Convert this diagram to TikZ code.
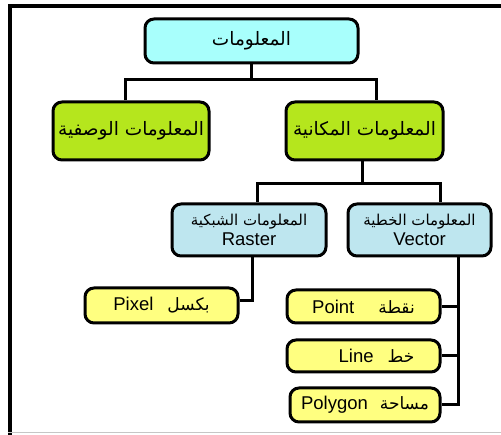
\documentclass[tikz,border=0pt]{standalone}
\usepackage{fontspec}
\setmainfont{Liberation Sans}
\newfontfamily\arabicfont[Script=Arabic]{DejaVu Sans}
\TeXXeTstate=1
\usetikzlibrary{calc}
\definecolor{cyanbox}{HTML}{A8FFFC}
\definecolor{greenbox}{HTML}{B5E61D}
\definecolor{bluebox}{HTML}{BEE6EF}
\definecolor{yellowbox}{HTML}{FFFF80}
\newcommand{\ar}[1]{{\arabicfont\beginR #1\endR}}
\begin{document}
\begin{tikzpicture}[x=1pt,y=-1pt,
  box/.style={draw=black,line width=3pt,rounded corners=9pt,inner sep=0pt,align=center,font=\fontsize{18.5}{21}\selectfont},
  conn/.style={draw=black,line width=3pt}]
\useasboundingbox (0,0) rectangle (501,435);
% frame
\draw[line width=4pt] (10,435) -- (10,6.5) -- (503,6.5);
\draw[gray!45,line width=1pt] (8,432.5) -- (501,432.5);
% nodes
\node[box,fill=cyanbox,minimum width=213pt,minimum height=44pt] (top) at (251.5,41) {\ar{المعلومات}};
\node[box,fill=greenbox,minimum width=156pt,minimum height=58pt] (gL) at (131,131) {\ar{المعلومات الوصفية}};
\node[box,fill=greenbox,minimum width=157pt,minimum height=58pt] (gR) at (364.5,131) {\ar{المعلومات المكانية}};
\node[box,fill=bluebox,minimum width=154pt,minimum height=52pt] (ras) at (249,230) {{\arabicfont\fontsize{15}{17}\selectfont\beginR المعلومات الشبكية\endR}\\[-1pt]Raster};
\node[box,fill=bluebox,minimum width=143pt,minimum height=52pt] (vec) at (419.5,230) {{\arabicfont\fontsize{15}{17}\selectfont\beginR المعلومات الخطية\endR}\\[-1pt]Vector};
\node[box,fill=yellowbox,minimum width=153pt,minimum height=35pt] (pix) at (161.5,305.5) {Pixel\hspace{14pt}{\fontsize{17}{19}\ar{بكسل}}};
\node[box,fill=yellowbox,minimum width=153pt,minimum height=33pt] (pt) at (363.5,306.5) {Point\hspace{24pt}{\fontsize{17}{19}\ar{نقطة}}};
\node[box,fill=yellowbox,minimum width=153pt,minimum height=32pt] (ln) at (363.5,356) {\hspace{26pt}Line\hspace{14pt}{\fontsize{17}{19}\ar{خط}}};
\node[box,fill=yellowbox,minimum width=150pt,minimum height=34pt] (pg) at (365,405) {Polygon\hspace{12pt}{\fontsize{17}{19}\ar{مساحة}}};
% connectors
\draw[conn] (top.south) -- (top.south |- 0,80);
\draw[conn] ([xshift=-6pt]gL.north) |- ([xshift=11.5pt]gR.north |- 0,80) -- ([xshift=11.5pt]gR.north);
\draw[conn] ([xshift=-2.5pt]gR.south) -- ([xshift=-2.5pt]gR.south |- 0,184);
\draw[conn] ([xshift=8pt]ras.north) |- ([xshift=20.5pt]vec.north |- 0,184) -- ([xshift=20.5pt]vec.north);
\draw[conn] ([xshift=3pt]ras.south) |- ([yshift=4.5pt]pix.east);
\draw[conn] ([xshift=38.5pt]vec.south) |- (pg.east);
\draw[conn] ([xshift=38.5pt]vec.south |- pt.east) -- (pt.east);
\draw[conn] ([xshift=38.5pt]vec.south |- ln.east) -- (ln.east);
\end{tikzpicture}
\end{document}
